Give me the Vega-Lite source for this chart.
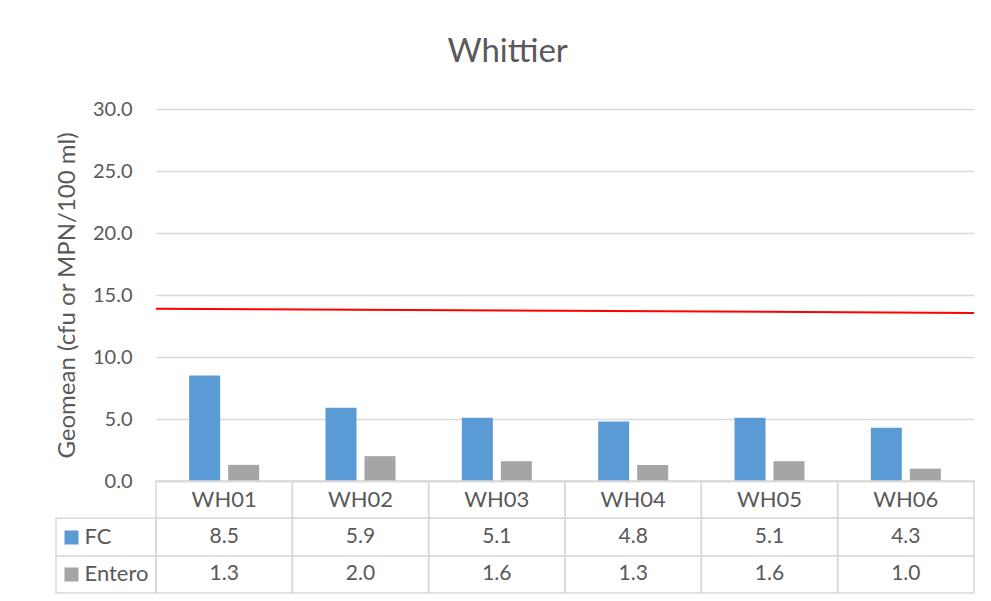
{
  "$schema": "https://vega.github.io/schema/vega-lite/v6.json",
  "padding": {"left": 55, "top": 36, "right": 10, "bottom": 5},
  "background": "white",
  "title": {"text": "Whittier", "font": "Lato", "fontSize": 33, "fontWeight": "normal", "color": "#595959", "anchor": "middle", "offset": 30, "dx": -9},
  "config": {"view": {"stroke": null}, "font": "Lato"},
  "datasets": {
    "geo": [
      {"site": "WH01", "series": "FC", "value": 8.5},
      {"site": "WH02", "series": "FC", "value": 5.9},
      {"site": "WH03", "series": "FC", "value": 5.1},
      {"site": "WH04", "series": "FC", "value": 4.8},
      {"site": "WH05", "series": "FC", "value": 5.1},
      {"site": "WH06", "series": "FC", "value": 4.3},
      {"site": "WH01", "series": "Entero", "value": 1.3},
      {"site": "WH02", "series": "Entero", "value": 2.0},
      {"site": "WH03", "series": "Entero", "value": 1.6},
      {"site": "WH04", "series": "Entero", "value": 1.3},
      {"site": "WH05", "series": "Entero", "value": 1.6},
      {"site": "WH06", "series": "Entero", "value": 1.0}
    ],
    "threshold": [
      {"pos": 0, "threshold": 13.9},
      {"pos": 1, "threshold": 13.55}
    ]
  },
  "columns": 2,
  "spacing": 0,
  "bounds": "flush",
  "concat": [
    {
      "width": 100,
      "height": 372,
      "data": {"values": [{}]},
      "mark": {"type": "point", "opacity": 0},
      "encoding": {}
    },
    {
      "width": 818,
      "height": 372,
      "layer": [
        {
          "data": {"name": "geo"},
          "mark": {"type": "bar"},
          "encoding": {
            "x": {"field": "site", "type": "nominal", "sort": null,
              "scale": {"paddingInner": 0.4866, "paddingOuter": 0.2433},
              "axis": {"title": null, "labels": false, "ticks": false, "domain": true, "domainColor": "#D9D9D9", "domainWidth": 1.5, "grid": false}},
            "xOffset": {"field": "series", "type": "nominal", "sort": ["FC", "Entero"], "scale": {"paddingInner": 0.205, "paddingOuter": 0}},
            "y": {"field": "value", "type": "quantitative",
              "scale": {"domain": [0, 30], "nice": false},
              "axis": {"title": "Geomean (cfu or MPN/100 ml)", "titleFont": "Lato", "titleFontSize": 24, "titleFontWeight": "normal", "titleColor": "#595959", "titlePadding": 13,
                "values": [0, 5, 10, 15, 20, 25, 30], "format": ".1f", "labelFont": "Lato", "labelFontSize": 20, "labelColor": "#595959", "labelPadding": 24,
                "domain": false, "ticks": false, "grid": true, "gridColor": "#D9D9D9", "gridWidth": 1.5}},
            "color": {"field": "series", "type": "nominal", "scale": {"domain": ["FC", "Entero"], "range": ["#5B9BD5", "#A5A5A5"]}, "legend": null}
          }
        },
        {
          "data": {"name": "threshold"},
          "mark": {"type": "line", "color": "#FF0000", "strokeWidth": 2, "clip": false},
          "encoding": {
            "x": {"field": "pos", "type": "quantitative", "scale": {"domain": [0, 1], "nice": false}, "axis": null},
            "y": {"field": "threshold", "type": "quantitative"}
          }
        }
      ],
      "resolve": {"scale": {"x": "independent"}}
    },
    {
      "width": 100,
      "height": 112,
      "data": {"name": "geo"},
      "transform": [{"aggregate": [{"op": "count", "as": "n"}], "groupby": ["series"]}],
      "mark": {"type": "rect", "filled": false, "stroke": "#D9D9D9", "strokeWidth": 1.5},
      "encoding": {
        "y": {"field": "series", "type": "nominal",
          "scale": {"domain": ["Site", "FC", "Entero"], "paddingInner": 0, "paddingOuter": 0},
          "axis": {"orient": "left", "offset": -22, "title": null, "domain": false, "grid": false,
            "ticks": true, "tickSize": 14, "tickWidth": 14, "tickCap": "butt",
            "tickColor": {"condition": {"test": "datum.value === 'FC'", "value": "#5B9BD5"}, "value": "#A5A5A5"},
            "tickOpacity": {"condition": {"test": "datum.value === 'Site'", "value": 0}, "value": 1},
            "labelExpr": "datum.value === 'Site' ? '' : datum.value",
            "labelAlign": "left", "labelPadding": -20, "labelFont": "Lato", "labelFontSize": 22, "labelColor": "#595959"}}
      }
    },
    {
      "width": 818,
      "height": 112,
      "data": {"name": "geo"},
      "layer": [
        {
          "mark": {"type": "rect", "filled": false, "stroke": "#D9D9D9", "strokeWidth": 1.5},
          "encoding": {
            "x": {"field": "site", "type": "nominal", "sort": null, "scale": {"paddingInner": 0, "paddingOuter": 0}, "axis": null},
            "y": {"field": "series", "type": "nominal", "scale": {"domain": ["Site", "FC", "Entero"], "paddingInner": 0, "paddingOuter": 0}, "axis": null}
          }
        },
        {
          "transform": [{"filter": "datum.series === 'FC'"}],
          "mark": {"type": "rect", "filled": false, "stroke": "#D9D9D9", "strokeWidth": 1.5},
          "encoding": {
            "x": {"field": "site", "type": "nominal", "sort": null},
            "y": {"datum": "Site", "type": "nominal"}
          }
        },
        {
          "mark": {"type": "text", "font": "Lato", "fontSize": 21, "color": "#595959"},
          "encoding": {
            "x": {"field": "site", "type": "nominal", "sort": null},
            "y": {"field": "series", "type": "nominal"},
            "text": {"field": "value", "type": "quantitative", "format": ".1f"}
          }
        },
        {
          "transform": [{"filter": "datum.series === 'FC'"}],
          "mark": {"type": "text", "font": "Lato", "fontSize": 22, "color": "#595959"},
          "encoding": {
            "x": {"field": "site", "type": "nominal", "sort": null},
            "y": {"datum": "Site", "type": "nominal"},
            "text": {"field": "site", "type": "nominal"}
          }
        }
      ]
    }
  ]
}
